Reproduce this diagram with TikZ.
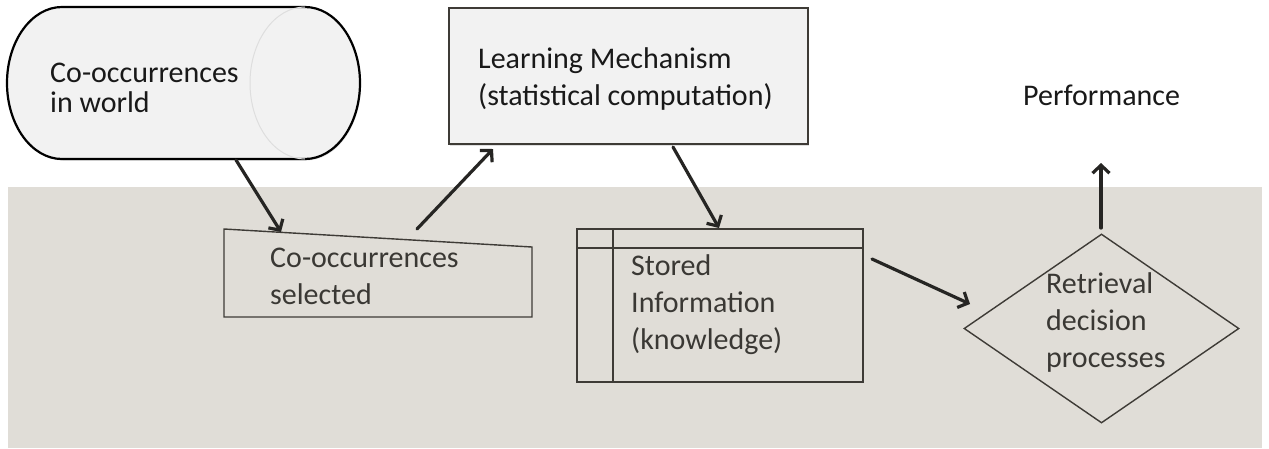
\documentclass[tikz,border=0pt]{standalone}
\usepackage{fontspec}
\setmainfont{Carlito}
\usetikzlibrary{arrows.meta,shapes.geometric,shadows}
\definecolor{band}{RGB}{224,221,215}
\definecolor{lightfill}{RGB}{242,242,242}
\definecolor{edge}{RGB}{62,59,54}
\definecolor{ink}{RGB}{38,37,35}
\definecolor{dtext}{RGB}{58,56,52}
\newcommand{\mltxt}[1]{\begin{tabular}[t]{@{}l@{}}#1\end{tabular}}
\begin{document}
\begin{tikzpicture}[x=1pt,y=-1pt,
  arr/.style={line width=3.2pt, draw=ink, -{Straight Barb[length=8pt,width=17pt]}, line cap=round},
  lbl/.style={anchor=base west, inner sep=0pt, font=\fontsize{30}{37}\selectfont, text=dtext},
  bandshape/.style={draw=edge, line width=1.4pt, fill=band},
  softshadow/.style={drop shadow={shadow xshift=1pt, shadow yshift=-1.5pt, opacity=0.25}}
]
\useasboundingbox (0,0) rectangle (1269,448);
\fill[white] (0,0) rectangle (1269,448);
\fill[band] (8,187) rectangle (1262,448);

% cylinder: co-occurrences in world
\draw[line width=2.2pt, draw=black, fill=lightfill, softshadow]
  (62,7) -- (305,7) arc[start angle=-90,end angle=90,x radius=55,y radius=76]
  -- (62,159) arc[start angle=90,end angle=270,x radius=55,y radius=76] -- cycle;
\draw[black!13, line width=1pt] (305,159) arc[start angle=90,end angle=270,x radius=55,y radius=76];
\node[lbl, font=\fontsize{30}{30}\selectfont, text=black!90] (world) at (50,82) {\mltxt{Co-occurrences\\in world}};

% learning mechanism
\node[draw=edge, line width=1.6pt, fill=lightfill, minimum width=359pt, minimum height=136pt, inner sep=0pt, softshadow] (learn) at (628.5,76) {};
\node[lbl, text=black!90] (learntxt) at (478,68) {\mltxt{Learning Mechanism\\(statistical computation)}};

% co-occurrences selected (manual input)
\draw[bandshape] (224,229) -- (532,247) -- (532,317) -- (224,317) -- cycle;
\node[lbl] (sel) at (270,267) {\mltxt{Co-occurrences\\selected}};

% stored information (internal storage)
\node[bandshape, rectangle, minimum width=286pt, minimum height=153pt, inner sep=0pt] (store) at (720,305.5) {};
\draw[edge, line width=1.4pt] (577,248) -- (863,248);
\draw[edge, line width=1.4pt] (613,229) -- (613,382);
\node[lbl] (storetxt) at (631,275) {\mltxt{Stored\\Information\\(knowledge)}};

% retrieval decision
\node[bandshape, diamond, minimum width=275pt, minimum height=189pt, inner sep=0pt] (ret) at (1101.5,328.5) {};
\node[lbl] (rettxt) at (1046,293) {\mltxt{Retrieval\\decision\\processes}};

% performance
\node[lbl, text=black!90] (perf) at (1023,105) {Performance};

% connector ends
\coordinate (a1s) at (236,160); \coordinate (a1e) at (281,232);
\coordinate (a2s) at (417,229); \coordinate (a2e) at (493,149);
\coordinate (a3s) at (673,147); \coordinate (a3e) at (719,228);
\coordinate (a4s) at (872,259); \coordinate (a4e) at (970,304);
\coordinate (a5s) at (1101,228); \coordinate (a5e) at (1101,163);

\draw[arr] (a1s) -- (a1e);
\draw[arr] (a2s) -- (a2e);
\draw[arr] (a3s) -- (a3e);
\draw[arr] (a4s) -- (a4e);
\draw[arr] (a5s) -- (a5e);
\end{tikzpicture}
\end{document}
